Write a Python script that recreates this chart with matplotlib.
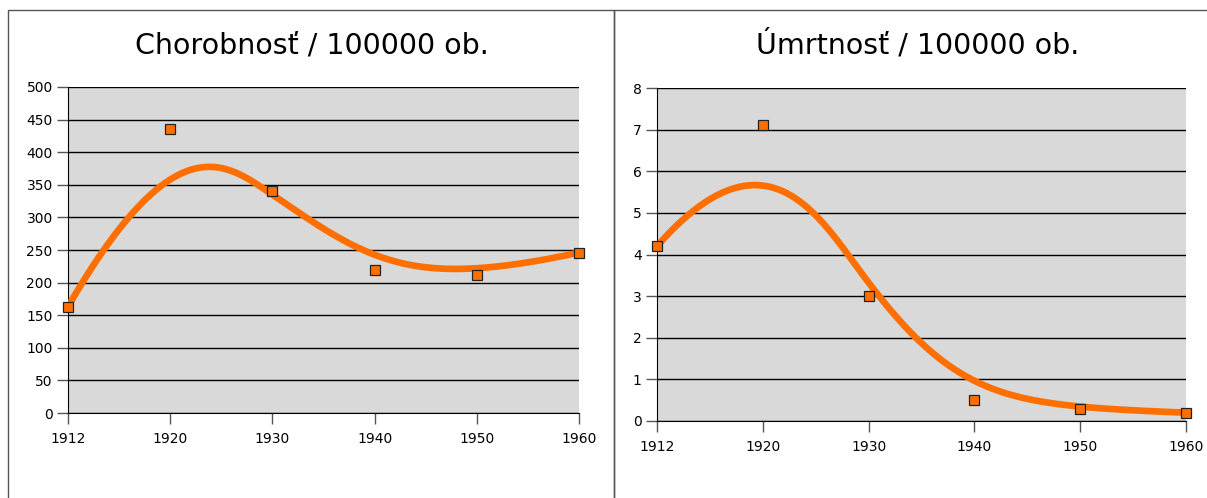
import matplotlib.pyplot as plt
from matplotlib.patches import Rectangle
import numpy as np

years = ["1912", "1920", "1930", "1940", "1950", "1960"]
chorobnost = [163, 435, 340, 220, 212, 246]
umrtnost = [4.2, 7.1, 3.0, 0.5, 0.3, 0.2]

ORANGE = "#ff6f00"
W, H = 1207, 498


def bspline(px, py, n=300, k=3):
    # clamped uniform B-spline with the data points as control points
    m = len(px)
    inner = np.arange(1, m - k)
    knots = np.concatenate([np.zeros(k + 1), inner, np.full(k + 1, m - k)]).astype(float)
    t = np.linspace(0, m - k, n)
    t[-1] -= 1e-9
    N = np.zeros((n, len(knots) - 1))
    for i in range(len(knots) - 1):
        N[:, i] = (t >= knots[i]) & (t < knots[i + 1])
    for d in range(1, k + 1):
        newN = np.zeros((n, len(knots) - 1 - d))
        for i in range(len(knots) - 1 - d):
            a = knots[i + d] - knots[i]
            b = knots[i + d + 1] - knots[i + 1]
            left = (t - knots[i]) / a * N[:, i] if a > 0 else 0
            right = (knots[i + d + 1] - t) / b * N[:, i + 1] if b > 0 else 0
            newN[:, i] = left + right
        N = newN
    return N @ np.array(px, float), N @ np.array(py, float)


def box(px0, py0, px1, py1):
    return [px0 / W, 1 - py1 / H, (px1 - px0) / W, (py1 - py0) / H]


fig = plt.figure(figsize=(W / 100, H / 100), dpi=100)

for x0, x1 in [(8, 614), (614, 1215)]:
    fig.patches.append(Rectangle((x0 / W, -0.1), (x1 - x0) / W, 1.1 - 10 / H,
                                 transform=fig.transFigure, fill=False,
                                 edgecolor="#555555", linewidth=1))

panels = [
    (chorobnost, "Chorobnosť / 100000 ob.", box(68, 87, 579, 413), 500, 50, 312),
    (umrtnost, "Úmrtnosť / 100000 ob.", box(657, 88, 1186, 421), 8, 1, 918),
]

for vals, title, rect, ymax, step, tx in panels:
    ax = fig.add_axes(rect)
    ax.set_facecolor("#d9d9d9")
    xs = np.arange(len(years))
    cx, cy = bspline(xs, vals)
    ax.plot(cx, cy, color=ORANGE, lw=4.8, solid_capstyle="butt", zorder=3)
    ax.plot(xs, vals, "s", ms=7, mfc=ORANGE, mec="#222222", mew=0.9,
            zorder=4, clip_on=False)
    ax.set_xlim(0, len(years) - 1)
    ax.set_ylim(0, ymax)
    ax.set_yticks(np.arange(0, ymax + step / 2, step))
    ax.set_xticks(xs)
    ax.set_xticklabels(years)
    ax.yaxis.grid(True, color="black", lw=1)
    ax.set_axisbelow(True)
    for s in ["top", "right"]:
        ax.spines[s].set_visible(False)
    ax.spines["left"].set_color("black")
    ax.spines["bottom"].set_color("black")
    ax.tick_params(axis="y", length=8, width=1, color="#555555", labelsize=10, pad=3)
    ax.tick_params(axis="x", length=8, width=1, color="#555555", labelsize=10, pad=6)
    fig.text(tx / W, 1 - 45 / H, title, ha="center", va="center", fontsize=20.5)

plt.savefig("out.png", dpi=100)
